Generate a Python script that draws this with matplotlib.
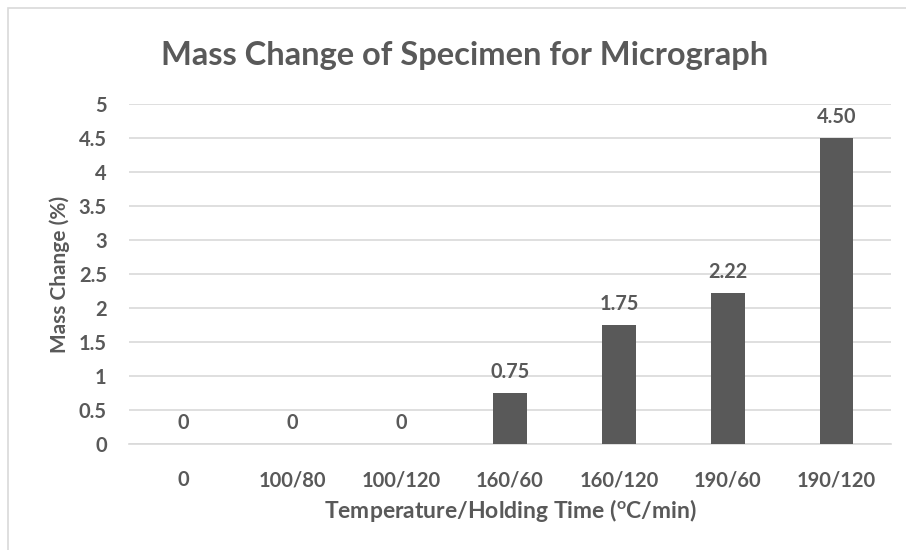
import matplotlib
matplotlib.use("Agg")
import matplotlib.pyplot as plt
from matplotlib.patches import Rectangle

categories = ["0", "100/80", "100/120", "160/60", "160/120", "190/60", "190/120"]
mass_change = [0, 0, 0, 0.75, 1.75, 2.22, 4.50]
value_labels = ["0", "0", "0", "0.75", "1.75", "2.22", "4.50"]
y_ticks = [0, 0.5, 1, 1.5, 2, 2.5, 3, 3.5, 4, 4.5, 5]
y_tick_labels = ["0", "0.5", "1", "1.5", "2", "2.5", "3", "3.5", "4", "4.5", "5"]

plt.rcParams['font.family'] = ['Lato', 'DejaVu Sans']
plt.rcParams['mathtext.fontset'] = 'custom'
plt.rcParams['mathtext.rm'] = 'Lato:bold'
plt.rcParams['mathtext.it'] = 'Lato:bold'
plt.rcParams['mathtext.bf'] = 'Lato:bold'
gray = "#595959"

W, H = 906, 550
fig = plt.figure(figsize=(W / 100, H / 100), dpi=100)
fig.patch.set_facecolor("white")
fig.patches.append(Rectangle((8 / W, -0.05), 1.2, 1 - 8 / H + 0.05, transform=fig.transFigure,
                             fill=False, edgecolor="#d9d9d9", linewidth=1.2))

ax = fig.add_axes([129 / W, 1 - 444 / H, (891 - 129) / W, (444 - 104) / H])
x = list(range(len(categories)))
ax.bar(x, mass_change, width=0.31, color=gray, zorder=3)
ax.set_xlim(-0.5, len(categories) - 0.5)
ax.set_ylim(0, 5)
ax.set_yticks(y_ticks)
ax.set_yticklabels(y_tick_labels)
ax.set_xticks(x)
ax.set_xticklabels(categories)
ax.yaxis.grid(True, color="#d9d9d9", linewidth=1.2, zorder=0)
for s in ["top", "right", "left"]:
    ax.spines[s].set_visible(False)
ax.spines["bottom"].set_color("#d9d9d9")
ax.spines["bottom"].set_linewidth(1.2)
ax.tick_params(axis="both", length=0, colors=gray, labelsize=14.5)
ax.tick_params(axis="x", pad=19)
ax.tick_params(axis="y", pad=16)
for lab in ax.get_xticklabels() + ax.get_yticklabels():
    lab.set_fontweight("bold")

for xi, v, t in zip(x, mass_change, value_labels):
    ax.annotate(t, (xi, v), xytext=(0, 8), textcoords="offset points", ha="center", va="bottom",
                fontsize=14.3, fontweight="bold", color=gray)

ax.set_xlabel(r"Temperature/Holding Time ($^{\mathrm{o}}$C/min)", fontsize=16.5, fontweight="bold",
              color=gray, labelpad=5)
ax.set_ylabel("Mass Change (%)", fontsize=15, fontweight="bold", color=gray, labelpad=6)

fig.text(465 / W, 1 - 55 / H, "Mass Change of Specimen for Micrograph", ha="center", va="center",
         fontsize=23.5, fontweight="bold", color=gray)

fig.savefig("out.png", dpi=100)
